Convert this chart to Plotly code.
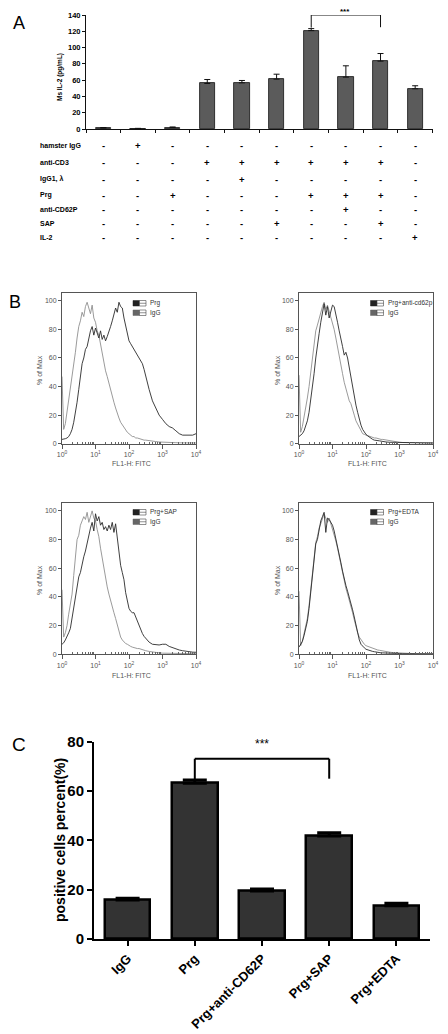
import plotly.graph_objects as go

W, H = 448, 1034
FONT = "Liberation Sans, Arial, sans-serif"


def fx(px):
    return px / W


def fy(py):
    return 1 - py / H


# ---------------- Panel A data ----------------
A_GROUPS = [0, 1, 2, 3, 4, 5, 6, 7, 8, 9]
A_MEAN = [1.2, 0.4, 1.8, 55.9, 56.7, 61.2, 120.8, 63.7, 83.3, 49.4]
A_SD = [0.6, 0.4, 0.7, 4.9, 2.9, 6.1, 2.5, 13.9, 9.4, 3.7]
A_YTICKS = [0, 20, 40, 60, 80, 100, 120, 140]
TABLE_LABELS = ["hamster IgG", "anti-CD3", "IgG1, λ", "Prg", "anti-CD62P", "SAP", "IL-2"]
TABLE_SIGNS = ["-+--------", "---++++++-", "----+-----", "--+---+++-",
               "-------+--", "-----+--+-", "---------+"]

# ---------------- Panel B data (log10 of FL1-H) ----------------
FL_EXP = [0.00, 0.05, 0.10, 0.15, 0.20, 0.25, 0.30, 0.35, 0.40, 0.45,
          0.50, 0.55, 0.60, 0.65, 0.70, 0.75, 0.80, 0.85, 0.90, 0.95,
          1.00, 1.05, 1.10, 1.15, 1.20, 1.25, 1.30, 1.35, 1.40, 1.45,
          1.50, 1.55, 1.60, 1.65, 1.70, 1.75, 1.80, 1.85, 1.90, 1.95,
          2.00, 2.05, 2.10, 2.15, 2.20, 2.25, 2.30, 2.35, 2.40, 2.45, 2.50,
          2.6, 2.7, 2.8, 2.9, 3.0, 3.1, 3.2, 3.3, 3.4, 3.5, 3.6, 3.7, 3.8, 3.9, 4.0]

TL_PRG = [3, 3, 3.5, 4, 5, 7, 10, 15, 21, 29,
          38, 47, 56, 60, 66, 68, 75, 79, 82, 76,
          81, 78, 74, 79, 73, 76, 72, 75, 78, 82,
          86, 90, 95, 92, 99, 96, 95, 88, 82, 77,
          72, 70, 68, 66, 64, 62, 60, 58, 56, 52, 47,
          38, 30, 25, 20, 17, 14, 12, 11, 9, 7, 6, 6, 5.5, 6, 7]
TL_IGG = [47, 10, 14, 22, 30, 38, 48, 57, 64, 74,
          82, 86, 92, 89, 96, 99, 94, 91, 97, 88,
          85, 79, 76, 70, 63, 56, 51, 47, 42, 37,
          33, 29, 25, 21, 18, 15, 13, 11, 10, 8,
          7, 6, 5, 5, 4, 4, 3.5, 3, 3, 2.5, 2.5,
          2, 1.5, 1.5, 1.2, 1, 1, 0.8, 0.8, 0.7, 0.6, 0.6, 0.5, 0.5, 0.5, 0.5]

TR_PRG = [5, 6, 7, 9, 12, 16, 22, 30, 39, 49,
          60, 70, 77, 85, 92, 98, 90, 96, 88, 93,
          97, 96, 89, 85, 79, 72, 68, 62, 64, 60,
          53, 47, 40, 33, 27, 22, 17, 13, 10, 8,
          6.5, 5.5, 4.5, 3.5, 3, 2.5, 2.5, 2, 2, 1.8, 1.5,
          1.2, 1, 1, 0.9, 0.8, 0.7, 0.7, 0.6, 0.6, 0.5, 0.5, 0.5, 0.5, 0.5, 0.5]
TR_IGG = [48, 8, 12, 18, 25, 32, 40, 50, 60, 71,
          79, 83, 88, 93, 96, 99, 94, 97, 93, 88,
          84, 80, 74, 67, 60, 55, 49, 43, 38, 33,
          30, 28, 23, 20, 16, 14, 11, 9, 7, 6.5,
          6, 5.5, 5, 5, 4.5, 4, 4, 3.5, 3.5, 3, 3,
          2.5, 2, 1.5, 1.2, 1, 0.8, 0.8, 0.7, 0.6, 0.6, 0.5, 0.5, 0.4, 0.4, 0.4]

BL_SAP = [7, 8, 10, 12, 15, 18, 25, 33, 40, 45,
          54, 57, 63, 68, 72, 78, 82, 88, 92, 86,
          98, 93, 96, 90, 92, 87, 89, 86, 90, 87,
          92, 85, 91, 80, 70, 62, 57, 52, 43, 36,
          32, 30, 29, 29, 26, 23, 20, 17, 14.5, 12.5, 11,
          8.5, 7, 6.5, 6.5, 7, 7, 5.5, 4.5, 4, 3, 2.5, 2, 1.6, 1.5, 1.4]
BL_IGG = [45, 12, 15, 20, 28, 35, 42, 55, 68, 80,
          83, 90, 93, 96, 94, 99, 92, 97, 100, 95,
          93, 87, 82, 74, 67, 59, 52, 47, 42, 37,
          33, 29, 25, 20, 15, 12, 10, 8.5, 7.5, 7,
          6, 5.5, 5, 4.5, 4.5, 4, 4, 3.5, 3, 2.5, 2.5,
          2, 1.5, 1.2, 1, 0.8, 0.8, 0.7, 0.6, 0.6, 0.5, 0.5, 0.5, 0.4, 0.4, 0.4]

BR_EDTA = [5, 7, 9, 13, 18, 23, 32, 43, 55, 68,
           77, 80, 86, 93, 96, 99, 85, 95, 94, 92,
           90, 86, 81, 76, 70, 64, 58, 52, 48, 44,
           40, 36, 31, 26, 20, 15, 10, 7, 5.5, 4.5,
           3.5, 3, 2.5, 2, 2, 1.8, 1.5, 1.3, 1.2, 1, 1,
           0.8, 0.7, 0.6, 0.5, 0.5, 0.4, 0.4, 0.3, 0.3, 0.3, 0.3, 0.3, 0.3, 0.3, 0.3]
BR_IGG = [44, 6, 9, 14, 19, 25, 34, 45, 57, 70,
          78, 82, 88, 91, 95, 98, 95, 92, 95, 91,
          88, 84, 79, 74, 68, 62, 57, 51, 46, 42,
          38, 34, 29, 24, 19, 15, 12, 10, 8, 7,
          6, 5.5, 5, 4.5, 4, 3.5, 3.2, 3, 2.8, 2.5, 2.2,
          1.8, 1.5, 1.2, 1, 0.8, 0.7, 0.6, 0.5, 0.5, 0.4, 0.4, 0.3, 0.3, 0.3, 0.3]

B_LEGENDS = ["Prg", "Prg+anti-cd62p", "Prg+SAP", "Prg+EDTA"]
B_YTICKS = [0, 20, 40, 60, 80, 100]
B_XTICKS = [1, 10, 100, 1000, 10000]
B_XTEXT = ["10<sup>0</sup>", "10<sup>1</sup>", "10<sup>2</sup>", "10<sup>3</sup>", "10<sup>4</sup>"]

# ---------------- Panel C data ----------------
C_GROUPS = ["IgG", "Prg", "Prg+anti-CD62P", "Prg+SAP", "Prg+EDTA"]
C_MEAN = [15.8, 63.2, 19.5, 41.8, 13.5]
C_SEM = [0.7, 1.3, 0.8, 1.3, 1.0]
C_YTICKS = [0, 20, 40, 60, 80]

fig = go.Figure()

# ---- Panel A bars ----
fig.add_trace(go.Bar(
    x=A_GROUPS, y=A_MEAN, width=0.44,
    marker=dict(color="#5b5b5b", line=dict(color="#111", width=0.8)),
    error_y=dict(type="data", symmetric=False, array=A_SD, arrayminus=[0] * len(A_SD),
                 color="#111", thickness=1, width=3),
    xaxis="x", yaxis="y"))

# ---- Panel B histograms ----
flx = [10 ** e for e in FL_EXP]
panels = [(TL_PRG, TL_IGG, 2), (TR_PRG, TR_IGG, 3), (BL_SAP, BL_IGG, 4), (BR_EDTA, BR_IGG, 5)]
for blk, gry, k in panels:
    fig.add_trace(go.Scatter(x=flx, y=gry, mode="lines", line=dict(color="#8f8f8f", width=0.9),
                             xaxis=f"x{k}", yaxis=f"y{k}"))
    fig.add_trace(go.Scatter(x=flx, y=blk, mode="lines", line=dict(color="#2a2a2a", width=0.9),
                             xaxis=f"x{k}", yaxis=f"y{k}"))

# ---- Panel C bars ----
fig.add_trace(go.Bar(
    x=list(range(len(C_GROUPS))), y=C_MEAN, width=0.68,
    marker=dict(color="#333333", line=dict(color="#000", width=2.5)),
    error_y=dict(type="data", symmetric=False, array=C_SEM, arrayminus=[0] * len(C_SEM),
                 color="#000", thickness=3, width=12),
    xaxis="x6", yaxis="y6"))

layout = dict(
    width=W, height=H, margin=dict(l=0, r=0, t=0, b=0, autoexpand=False),
    paper_bgcolor="white", plot_bgcolor="white", showlegend=False,
    font=dict(family=FONT, color="#000"),
    bargap=0, hovermode=False,
)

# Panel A axes
layout["xaxis"] = dict(domain=[fx(86), fx(432.5)], range=[-0.5, 9.5],
                       tickvals=[i - 0.5 for i in range(11)], ticktext=[""] * 11,
                       ticks="outside", ticklen=3, tickcolor="#111", showline=True,
                       linecolor="#111", linewidth=1, showgrid=False, zeroline=False,
                       anchor="y")
layout["yaxis"] = dict(domain=[fy(129), fy(15)], range=[0, 140], tickvals=A_YTICKS,
                       ticks="outside", ticklen=3, tickcolor="#111", showline=True,
                       linecolor="#111", linewidth=1, showgrid=False, zeroline=False,
                       tickfont=dict(size=7.5, family=FONT, weight="bold"), anchor="x")

# Panel B axes
minor_vals = [m * 10 ** d for d in range(4) for m in range(2, 10)]
b_dom = {2: ((62, 196), (443.7, 293)), 3: ((299, 433), (443.7, 293)),
         4: ((62, 196), (654.3, 503)), 5: ((299, 433), (654.3, 503))}
for k, ((x0, x1), (yb, yt)) in b_dom.items():
    layout[f"xaxis{k}"] = dict(domain=[fx(x0), fx(x1)], type="log", range=[0, 4],
                               tickvals=B_XTICKS, ticktext=B_XTEXT, ticks="outside",
                               ticklen=4, tickcolor="#555", showline=True, mirror=True,
                               linecolor="#555", linewidth=1, showgrid=False, zeroline=False,
                               tickfont=dict(size=7, color="#555", family=FONT),
                               minor=dict(tickvals=minor_vals, ticks="inside", ticklen=2,
                                          tickcolor="#666", showgrid=False),
                               anchor=f"y{k}")
    layout[f"yaxis{k}"] = dict(domain=[fy(yb), fy(yt)], range=[0, 105.5], tickvals=B_YTICKS,
                               ticks="outside", ticklen=3, tickcolor="#555", showline=True,
                               mirror=True, linecolor="#555", linewidth=1, showgrid=False,
                               zeroline=False, tickfont=dict(size=7, color="#555", family=FONT),
                               anchor=f"x{k}")

# Panel C axes
layout["xaxis6"] = dict(domain=[fx(94), fx(430)], range=[-0.5, 4.5],
                        tickvals=list(range(len(C_GROUPS))), ticktext=C_GROUPS, tickangle=-45,
                        ticks="outside", ticklen=5, tickwidth=2, tickcolor="#000",
                        showline=True, linecolor="#000", linewidth=2, showgrid=False,
                        zeroline=False, tickfont=dict(size=13, family=FONT, weight="bold"),
                        anchor="y6")
layout["yaxis6"] = dict(domain=[fy(939), fy(741.7)], range=[0, 80], tickvals=C_YTICKS,
                        ticks="outside", ticklen=5, tickwidth=2, tickcolor="#000",
                        showline=True, linecolor="#000", linewidth=2, showgrid=False,
                        zeroline=False, tickfont=dict(size=15, family=FONT, weight="bold"),
                        anchor="x6")

fig.update_layout(**layout)

anns = []
shapes = []


def ann(text, px, py, size, color="#000", bold=False, angle=0, xanchor="center", yanchor="middle"):
    anns.append(dict(text=text, x=fx(px), y=fy(py), xref="paper", yref="paper",
                     showarrow=False, textangle=angle, xanchor=xanchor, yanchor=yanchor,
                     font=dict(size=size, color=color, family=FONT,
                               weight="bold" if bold else "normal")))


# Panel letters
ann("A", 19, 23, 18)
ann("B", 15, 302, 18)
ann("C", 19, 744, 19)

# Panel A labels
ann("Ms IL-2 (pg/mL)", 60, 77, 6.5, bold=True, angle=-90)
ann("***", 345, 11.5, 8, bold=True)
shapes += [
    dict(type="line", xref="x", yref="y", x0=6, x1=8, y0=140, y1=140, line=dict(color="#111", width=1)),
    dict(type="line", xref="x", yref="y", x0=6, x1=6, y0=140, y1=124.5, line=dict(color="#111", width=1)),
    dict(type="line", xref="x", yref="y", x0=8, x1=8, y0=140, y1=125, line=dict(color="#111", width=1)),
]

row_y = [146, 162.5, 179, 195, 209.5, 224, 237.5]
for lab, signs, py in zip(TABLE_LABELS, TABLE_SIGNS, row_y):
    ann(lab, 38, py, 7, bold=True, xanchor="left")
    for i, s in enumerate(signs):
        anns.append(dict(text=s, x=A_GROUPS[i], y=fy(py), xref="x", yref="paper",
                         showarrow=False, xanchor="center", yanchor="middle",
                         font=dict(size=9.5, color="#000", family=FONT, weight="bold")))

# Panel B labels and legends
for (xc, yc) in [(39, 370), (277, 370), (39, 580), (277, 580)]:
    ann("% of Max", xc, yc, 7, color="#555", angle=-90)
for (xc, yc) in [(131, 463.5), (367, 463.5), (131, 675.5), (367, 675.5)]:
    ann("FL1-H: FITC", xc, yc, 7, color="#555")

leg_pos = [(133, 300.5), (370.5, 300.5), (133, 509.5), (370.5, 509.5)]
for name, (lx, ly) in zip(B_LEGENDS, leg_pos):
    for r, (fill, label) in enumerate([("#222", name), ("#666", "IgG")]):
        y0 = ly + r * 9.5
        y1 = y0 + 5.5
        shapes.append(dict(type="rect", xref="paper", yref="paper", x0=fx(lx), x1=fx(lx + 6.5),
                           y0=fy(y1), y1=fy(y0), fillcolor=fill, line=dict(color=fill, width=0.5)))
        shapes.append(dict(type="rect", xref="paper", yref="paper", x0=fx(lx + 6.5), x1=fx(lx + 13),
                           y0=fy(y1), y1=fy(y0), fillcolor="white", line=dict(color="#444", width=0.6)))
        shapes.append(dict(type="line", xref="paper", yref="paper", x0=fx(lx + 6.5), x1=fx(lx + 13),
                           y0=fy((y0 + y1) / 2), y1=fy((y0 + y1) / 2), line=dict(color="#444", width=0.6)))
        ann(label, lx + 15, (y0 + y1) / 2, 6.5, color="#333", xanchor="left")

# Panel C labels
ann("positive cells percent(%)", 60, 840, 14, bold=True, angle=-90)
anns.append(dict(text="***", x=2, y=75.5, xref="x6", yref="y6", showarrow=False,
                 yanchor="bottom", font=dict(size=12, family=FONT)))
shapes += [
    dict(type="line", xref="x6", yref="y6", x0=1, x1=3, y0=73.1, y1=73.1, line=dict(color="#000", width=2)),
    dict(type="line", xref="x6", yref="y6", x0=1, x1=1, y0=73.1, y1=64.5, line=dict(color="#000", width=2)),
    dict(type="line", xref="x6", yref="y6", x0=3, x1=3, y0=73.1, y1=65.0, line=dict(color="#000", width=2)),
]

fig.update_layout(annotations=anns, shapes=shapes)
fig.write_html("out.html", config={"displayModeBar": False},
               post_script="document.body.style.margin='0';document.body.style.padding='0';")
